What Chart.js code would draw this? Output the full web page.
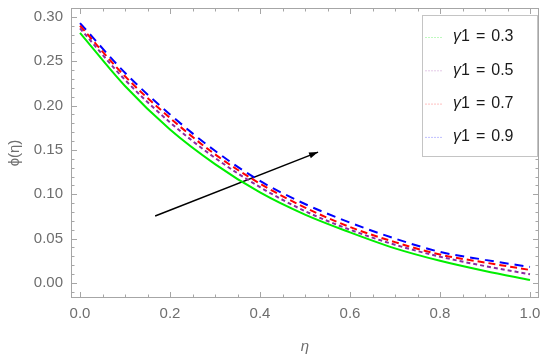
<!DOCTYPE html>
<html>
<head>
<meta charset="utf-8">
<script src="https://cdn.jsdelivr.net/npm/chart.js@4.4.1/dist/chart.umd.min.js"></script>
<style>
html,body{margin:0;padding:0;background:#fff;}
#wrap{width:550px;height:361px;}
</style>
</head>
<body>
<div id="wrap"><canvas id="c" width="550" height="361"></canvas></div>
<script>
// ---- data ----
const eta = [0.0, 0.1, 0.2, 0.3, 0.4, 0.5, 0.6, 0.7, 0.8, 0.9, 1.0];
const phi03 = [0.282, 0.222, 0.173, 0.134, 0.102, 0.077, 0.057, 0.039, 0.025, 0.0135, 0.0034];
const phi05 = [0.287, 0.229, 0.181, 0.141, 0.108, 0.081, 0.060, 0.043, 0.0296, 0.019, 0.0098];
const phi07 = [0.290, 0.233, 0.186, 0.145, 0.112, 0.085, 0.063, 0.046, 0.032, 0.023, 0.0146];
const phi09 = [0.293, 0.237, 0.190, 0.149, 0.115, 0.089, 0.068, 0.050, 0.035, 0.026, 0.018];
const seriesLabels = ['\u03b31 = 0.3', '\u03b31 = 0.5', '\u03b31 = 0.7', '\u03b31 = 0.9'];
const arrowX = [0.167, 0.529];
const arrowY = [0.0755, 0.1475];
const xTicks = [0.0, 0.2, 0.4, 0.6, 0.8, 1.0];
const xTickLabels = ['0.0', '0.2', '0.4', '0.6', '0.8', '1.0'];
const yTicks = [0.00, 0.05, 0.10, 0.15, 0.20, 0.25, 0.30];
const yTickLabels = ['0.00', '0.05', '0.10', '0.15', '0.20', '0.25', '0.30'];

const pts = (xs, ys) => xs.map((x, i) => ({x: x, y: ys[i]}));

const FONT = "'Liberation Sans', Arial, sans-serif";
const frameColor = '#a6a6a6';

const framePlugin = {
  id: 'frame',
  beforeDatasetsDraw(chart) {
    const ctx = chart.ctx, a = chart.chartArea;
    const xs = chart.scales.x, ys = chart.scales.y;
    ctx.save();
    ctx.strokeStyle = frameColor;
    ctx.lineWidth = 1;
    ctx.strokeRect(a.left + 0.5, a.top + 0.5, a.right - a.left - 1, a.bottom - a.top - 1);
    ctx.beginPath();
    for (let k = -4; k <= 24; k++) {
      const v = k * 0.05;
      const px = Math.round(xs.getPixelForValue(v)) + 0.5;
      if (px <= a.left + 1 || px >= a.right - 1) continue;
      const major = k % 4 === 0;
      const L = major ? 6 : 3.5;
      ctx.moveTo(px, a.bottom); ctx.lineTo(px, a.bottom - L);
      ctx.moveTo(px, a.top); ctx.lineTo(px, a.top + L);
    }
    for (let k = -3; k <= 33; k++) {
      const v = k * 0.01;
      const py = Math.round(ys.getPixelForValue(v)) + 0.5;
      if (py <= a.top + 1 || py >= a.bottom - 1) continue;
      const major = k % 5 === 0;
      const L = major ? 6 : 3.5;
      ctx.moveTo(a.left, py); ctx.lineTo(a.left + L, py);
      ctx.moveTo(a.right, py); ctx.lineTo(a.right - L, py);
    }
    ctx.stroke();
    ctx.restore();
  },
  afterDatasetsDraw(chart) {
    const ctx = chart.ctx, a = chart.chartArea;
    const xs = chart.scales.x, ys = chart.scales.y;
    const x0 = xs.getPixelForValue(arrowX[0]), y0 = ys.getPixelForValue(arrowY[0]);
    const x1 = xs.getPixelForValue(arrowX[1]), y1 = ys.getPixelForValue(arrowY[1]);
    const ang = Math.atan2(y1 - y0, x1 - x0);
    const hl = 9, hw = 3;
    ctx.save();
    ctx.fillStyle = '#000';
    ctx.beginPath();
    ctx.moveTo(x1, y1);
    ctx.lineTo(x1 - hl * Math.cos(ang) + hw * Math.sin(ang), y1 - hl * Math.sin(ang) - hw * Math.cos(ang));
    ctx.lineTo(x1 - hl * Math.cos(ang) - hw * Math.sin(ang), y1 - hl * Math.sin(ang) + hw * Math.cos(ang));
    ctx.closePath();
    ctx.fill();
    // legend box
    const bx = a.right - 117, by = a.top + 7, bw = 116, bh = 142;
    ctx.fillStyle = '#fff';
    ctx.fillRect(bx, by, bw, bh);
    ctx.strokeStyle = '#c4c4c4';
    ctx.lineWidth = 1;
    ctx.strokeRect(bx + 0.5, by + 0.5, bw - 1, bh - 1);
    const sampleColors = ['rgba(0,230,0,0.25)', 'rgba(150,40,160,0.25)', 'rgba(255,0,0,0.25)', 'rgba(0,0,255,0.25)'];
    ctx.textBaseline = 'middle';
    ctx.textAlign = 'left';
    for (let i = 0; i < 4; i++) {
      const cy = by + 22 + i * 33.3;
      ctx.strokeStyle = sampleColors[i];
      ctx.setLineDash([2, 1]);
      ctx.beginPath();
      ctx.moveTo(bx + 3, cy + 0.5); ctx.lineTo(bx + 20, cy + 0.5);
      ctx.stroke();
      ctx.setLineDash([]);
      ctx.fillStyle = '#1a1a1a';
      const parts = chart.data.datasets[i].label.split(' = ');
      let tx = bx + 31;
      ctx.font = 'italic 16px ' + FONT;
      ctx.fillText(parts[0][0], tx, cy);
      tx += ctx.measureText(parts[0][0]).width;
      ctx.font = '16px ' + FONT;
      ctx.fillText(parts[0].slice(1), tx, cy);
      tx += ctx.measureText(parts[0].slice(1)).width + 6;
      ctx.fillText('=', tx, cy);
      tx += ctx.measureText('=').width + 6;
      ctx.fillText(parts[1], tx, cy);
    }
    ctx.restore();
  }
};

const common = {pointRadius: 0, borderWidth: 2, fill: false, cubicInterpolationMode: 'monotone'};

new Chart(document.getElementById('c'), {
  type: 'line',
  data: {
    datasets: [
      Object.assign({label: seriesLabels[0], data: pts(eta, phi03), borderColor: '#00ee00'}, common),
      Object.assign({label: seriesLabels[1], data: pts(eta, phi05), borderColor: '#8b2aa0', borderDash: [4, 3]}, common),
      Object.assign({label: seriesLabels[2], data: pts(eta, phi07), borderColor: '#ff0000', borderDash: [7, 4]}, common),
      Object.assign({label: seriesLabels[3], data: pts(eta, phi09), borderColor: '#0000ff', borderDash: [9, 6]}, common),
      {label: 'arrow', data: pts(arrowX, arrowY), borderColor: '#000', borderWidth: 1.5, pointRadius: 0, fill: false}
    ]
  },
  options: {
    responsive: false,
    animation: false,
    events: [],
    layout: {padding: {top: 8, right: 11, left: 0, bottom: 0}},
    plugins: {legend: {display: false}, tooltip: {enabled: false}},
    scales: {
      x: {
        type: 'linear', min: -0.02, max: 1.02,
        afterBuildTicks: s => { s.ticks = xTicks.map(v => ({value: v})); },
        afterFit: s => { s.height = 63; s.paddingLeft = 0; s.paddingRight = 0; },
        grid: {display: false, drawTicks: false},
        border: {display: false},
        ticks: {padding: 7, color: '#6e6e6e', font: {family: FONT, size: 15},
                maxRotation: 0, autoSkip: false,
                callback: (v, i) => xTickLabels[i]},
        title: {display: true, text: '\u03b7', color: '#6e6e6e', font: {family: FONT, size: 15, style: 'italic'}, padding: {top: 0, bottom: 5}}
      },
      y: {
        type: 'linear', min: -0.017, max: 0.31,
        afterBuildTicks: s => { s.ticks = yTicks.map(v => ({value: v})); },
        afterFit: s => { s.width = 71; s.paddingTop = 0; s.paddingBottom = 0; },
        grid: {display: false, drawTicks: false},
        border: {display: false},
        ticks: {padding: 8, color: '#6e6e6e', font: {family: FONT, size: 15}, autoSkip: false,
                callback: (v, i) => yTickLabels[i]},
        title: {display: true, text: '\u03d5(\u03b7)', color: '#6e6e6e', font: {family: FONT, size: 15}, padding: {top: 6, bottom: 0}}
      }
    }
  },
  plugins: [framePlugin]
});
</script>
</body>
</html>
